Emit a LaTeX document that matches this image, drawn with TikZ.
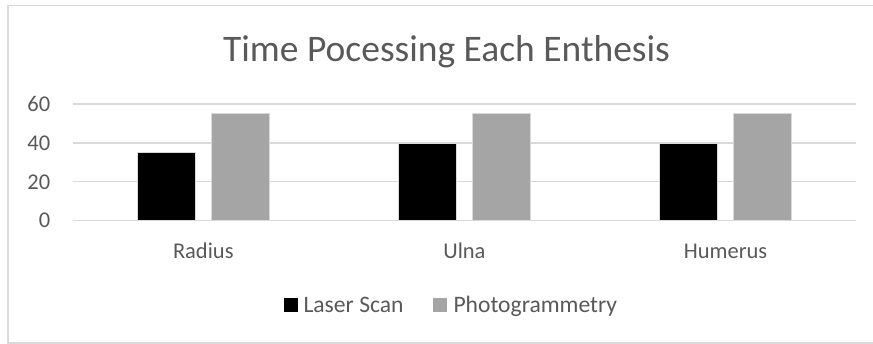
\documentclass[tikz,border=0pt]{standalone}
\usepackage{fontspec}
\setmainfont{Carlito}
\definecolor{txtgray}{HTML}{595959}
\definecolor{gridgray}{HTML}{D9D9D9}
\definecolor{photogray}{HTML}{A5A5A5}
\tikzset{
  gridline/.style={draw=gridgray, line width=1.3pt},
  frameline/.style={draw=gridgray, line width=1.2pt},
  laserbar/.style={fill=black, draw=gridgray, line width=0.5pt},
  photobar/.style={fill=photogray, draw=gridgray, line width=0.5pt},
  ticklabel/.style={text=txtgray, font=\fontsize{22.5}{26}\selectfont, inner sep=0pt},
  leglabel/.style={text=txtgray, font=\fontsize{23.6}{27}\selectfont, inner sep=0pt},
  titlelabel/.style={text=txtgray, font=\fontsize{37.5}{42}\selectfont, inner sep=0pt},
}
\begin{document}
\begin{tikzpicture}[x=1pt,y=-1pt]
  \useasboundingbox (0,0) rectangle (873,344);
  % chart frame (right side runs off the page)
  \draw[frameline] (874,5.5) -- (8,5.5) -- (8,343) -- (874,343);
  % title
  \node[titlelabel, anchor=base] (title) at (446.5,61.7) {Time Pocessing Each Enthesis};
  % horizontal grid lines and value axis labels
  \foreach \v/\y in {0/220.7,20/181.8,40/142.9,60/104} {
    \draw[gridline] (72.7,\y) -- (856,\y);
    \node[ticklabel, anchor=east] (tick\v) at (50.5,\y) {\v};
  }
  % bars: value v maps to y = 220.7 - 1.945*v
  \foreach \c/\cx/\ls/\ps in {radius/203.3/35/55, ulna/464.4/40/55, humerus/725.5/40/55} {
    \draw[laserbar] ({\cx-66.3},220.7) rectangle ({\cx-8},{220.7-1.945*\ls});
    \draw[photobar] ({\cx+8},220.7) rectangle ({\cx+66},{220.7-1.945*\ps});
  }
  % category labels
  \node[ticklabel, anchor=base] (cradius) at (203.3,258.3) {Radius};
  \node[ticklabel, anchor=base] (culna) at (464.4,258.3) {Ulna};
  \node[ticklabel, anchor=base] (chumerus) at (725.5,258.3) {Humerus};
  % legend
  \fill[black] (284.3,298.3) rectangle (298.3,312.3);
  \node[leglabel, anchor=base west] (leglaser) at (303.3,312.3) {Laser Scan};
  \fill[photogray] (433.3,298.3) rectangle (447.3,312.3);
  \node[leglabel, anchor=base west] (legphoto) at (453.3,312.3) {Photogrammetry};
\end{tikzpicture}
\end{document}
